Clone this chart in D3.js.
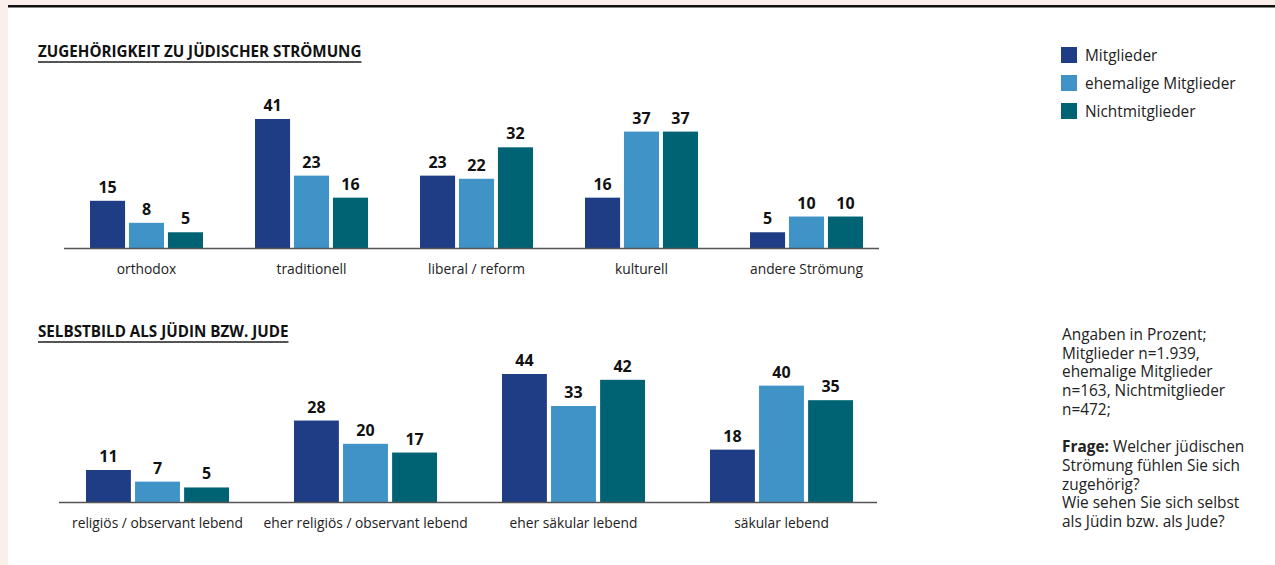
<!DOCTYPE html>
<html>
<head>
<meta charset="utf-8">
<script src="https://cdn.jsdelivr.net/npm/d3@7"></script>
<style>
  html, body { margin: 0; padding: 0; background: #fff; }
  svg { display: block; font-family: "Open Sans", "Noto Sans", sans-serif; }
</style>
</head>
<body>
<svg id="chart" width="1275" height="565"></svg>
<script>
// Daten
const serien = ["Mitglieder", "ehemalige Mitglieder", "Nichtmitglieder"];
const farben = ["#1f3d85", "#3f93c6", "#006373"];

const kategorien1 = ["orthodox", "traditionell", "liberal / reform", "kulturell", "andere Strömung"];
const mitglieder1 = [15, 41, 23, 16, 5];
const ehemalige1 = [8, 23, 22, 37, 10];
const nicht1 = [5, 16, 32, 37, 10];

const kategorien2 = ["religiös / observant lebend", "eher religiös / observant lebend", "eher säkular lebend", "säkular lebend"];
const mitglieder2 = [11, 28, 44, 18];
const ehemalige2 = [7, 20, 33, 40];
const nicht2 = [5, 17, 42, 35];

const notizen = [
  ["", "Angaben in Prozent;"],
  ["", "Mitglieder n=1.939,"],
  ["", "ehemalige Mitglieder"],
  ["", "n=163, Nichtmitglieder"],
  ["", "n=472;"],
  ["", ""],
  ["Frage:", " Welcher jüdischen"],
  ["", "Strömung fühlen Sie sich"],
  ["", "zugehörig?"],
  ["", "Wie sehen Sie sich selbst"],
  ["", "als Jüdin bzw. als Jude?"]
];

const svg = d3.select("#chart");

// Hintergrund / Rahmen
svg.append("rect").attr("x", 0).attr("y", 0).attr("width", 1275).attr("height", 565).attr("fill", "#fbefeb");
svg.append("rect").attr("x", 8).attr("y", 5).attr("width", 1267).attr("height", 560).attr("fill", "#fff");
svg.append("rect").attr("x", 8).attr("y", 5).attr("width", 1267).attr("height", 2.5).attr("fill", "#111");

// Funktion für ein Balkendiagramm
function balken(cfg) {
  const g = svg.append("g");
  const daten = cfg.kategorien.map((k, i) => ({
    kat: k,
    werte: [cfg.m[i], cfg.e[i], cfg.n[i]]
  }));

  // Titel mit Unterstreichung
  const titel = g.append("text")
    .attr("x", 38).attr("y", cfg.titelY)
    .style("font-size", "15.2px").style("font-weight", "bold")
    .attr("fill", "#111")
    .text(cfg.titel);
  const tl = titel.node().getComputedTextLength();
  g.append("line")
    .attr("x1", 38).attr("x2", 38 + tl)
    .attr("y1", cfg.titelY + 5).attr("y2", cfg.titelY + 5)
    .attr("stroke", "#555").attr("stroke-width", 2);

  const x0 = d3.scaleBand().domain(cfg.kategorien).range(cfg.xRange);
  const x1 = d3.scaleBand().domain(d3.range(3)).range([0, cfg.gruppe]).paddingInner(cfg.pad);
  const y = d3.scaleLinear().domain([0, cfg.yMax]).range([cfg.basis, cfg.top]);

  const grp = g.selectAll("g.grp").data(daten).enter().append("g")
    .attr("transform", d => `translate(${x0(d.kat) + (x0.bandwidth() - cfg.gruppe) / 2},0)`);

  grp.selectAll("rect").data(d => d.werte).enter().append("rect")
    .attr("x", (v, i) => x1(i))
    .attr("y", v => y(v))
    .attr("width", x1.bandwidth())
    .attr("height", v => y(0) - y(v))
    .attr("fill", (v, i) => farben[i]);

  grp.selectAll("text.wert").data(d => d.werte).enter().append("text")
    .attr("class", "wert")
    .attr("x", (v, i) => x1(i) + x1.bandwidth() / 2)
    .attr("y", v => y(v) - 8)
    .attr("text-anchor", "middle")
    .style("font-size", "16px").style("font-weight", "bold")
    .attr("fill", "#111")
    .text(v => v);

  // Grundlinie
  g.append("line")
    .attr("x1", cfg.linie[0]).attr("x2", cfg.linie[1])
    .attr("y1", y(0) + 0.5).attr("y2", y(0) + 0.5)
    .attr("stroke", "#555").attr("stroke-width", 1.5);

  // Kategorienbeschriftung
  g.selectAll("text.kat").data(cfg.kategorien).enter().append("text")
    .attr("class", "kat")
    .attr("x", d => x0(d) + x0.bandwidth() / 2)
    .attr("y", y(0) + 26)
    .attr("text-anchor", "middle")
    .style("font-size", "13.8px")
    .attr("fill", "#222")
    .text(d => d);
}

balken({
  titel: "ZUGEHÖRIGKEIT ZU JÜDISCHER STRÖMUNG", titelY: 57,
  kategorien: kategorien1, m: mitglieder1, e: ehemalige1, n: nicht1,
  xRange: [64, 889], gruppe: 113, pad: 0.1,
  yMax: 41, basis: 248, top: 119, linie: [64, 879]
});

balken({
  titel: "SELBSTBILD ALS JÜDIN BZW. JUDE", titelY: 337,
  kategorien: kategorien2, m: mitglieder2, e: ehemalige2, n: nicht2,
  xRange: [53.5, 885.5], gruppe: 143, pad: 0.085,
  yMax: 44, basis: 502, top: 374, linie: [59, 877]
});

// Legende
const leg = svg.append("g").attr("transform", "translate(1061,47)");
const item = leg.selectAll("g").data(serien).enter().append("g")
  .attr("transform", (d, i) => `translate(0,${i * 28})`);
item.append("rect").attr("width", 16).attr("height", 16).attr("fill", (d, i) => farben[i]);
item.append("text").attr("x", 24).attr("y", 13.5)
  .style("font-size", "15.4px").attr("fill", "#222").text(d => d);

// Anmerkungen
const notiz = svg.append("text").attr("x", 1062).attr("y", 340)
  .style("font-size", "15.4px").attr("fill", "#222");
notizen.forEach((z, i) => {
  const zeile = notiz.append("tspan").attr("x", 1062).attr("y", 340 + i * 18.7);
  if (z[0]) zeile.append("tspan").style("font-weight", "bold").text(z[0]);
  zeile.append("tspan").text(z[1] || "\u00a0");
});
</script>
</body>
</html>
